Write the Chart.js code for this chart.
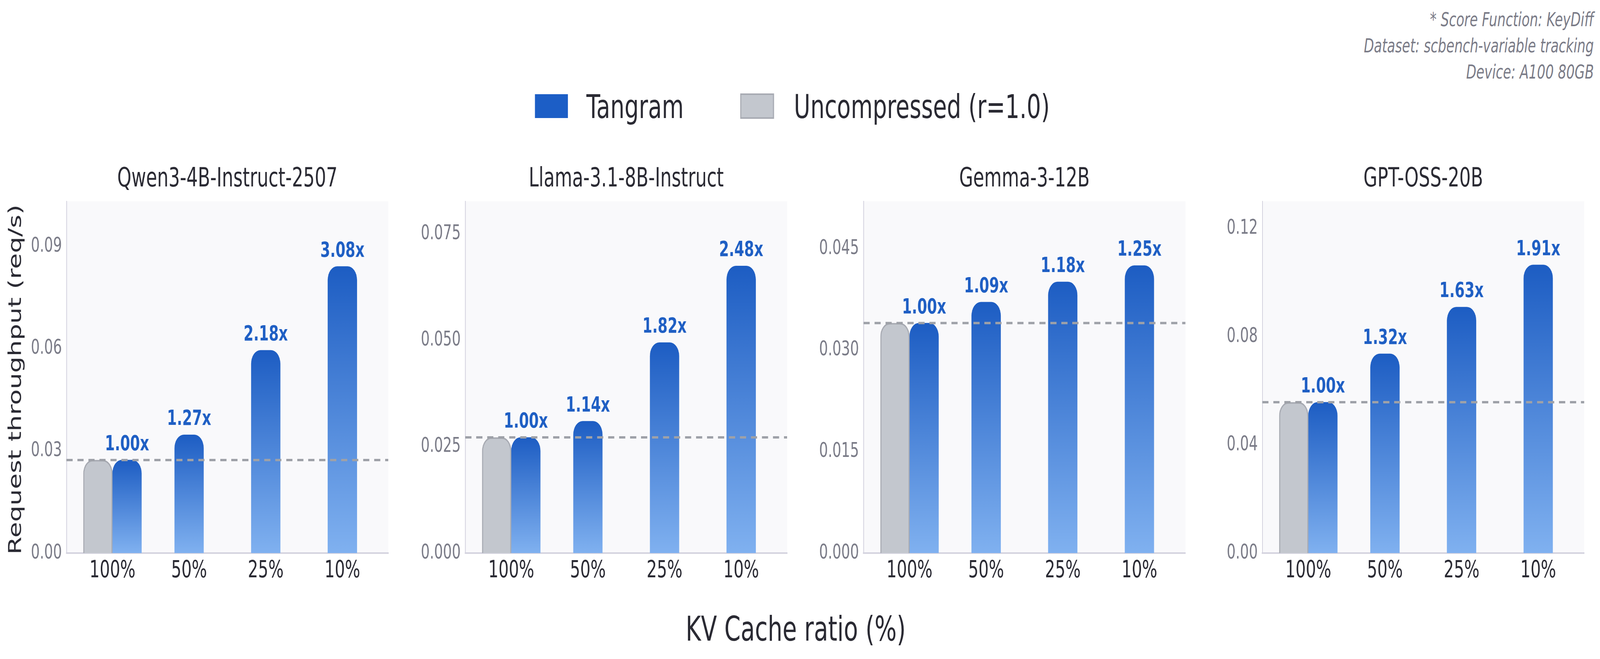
<!DOCTYPE html>
<html>
<head>
<meta charset="utf-8">
<title>Tangram throughput</title>
<script src="https://cdn.jsdelivr.net/npm/chart.js@4.4.1/dist/chart.umd.min.js"></script>
<style>
  html, body { margin: 0; background: #fff; overflow: hidden; }
  #fig { position: absolute; left: 0; top: 0; width: 5970px; height: 1686px; overflow: hidden; transform-origin: 0 0;
         font-family: "DejaVu Sans", sans-serif; color: #2a2a33; background: #fff; }
  .panel { position: absolute; top: 400px; height: 1125px; }
  .sw { position: absolute; box-sizing: border-box; }
  .lg { position: absolute; top: 231px; font-size: 84px; line-height: 84px; white-space: nowrap; }
  #note { position: absolute; right: 23px; top: 17px; text-align: right; font-style: italic; font-size: 49px; line-height: 67px; color: #7a7b87; white-space: nowrap; }
  #xlab { position: absolute; left: 2969px; top: 1566px; transform: translateX(-50%); font-size: 87px; line-height: 87px; white-space: nowrap; }
</style>
</head>
<body>
<div id="fig">
  <div id="note">* Score Function: KeyDiff<br>Dataset: scbench-variable tracking<br>Device: A100 80GB</div>
  <div class="sw" style="left:1996px;top:241px;width:123px;height:61px;background:#1c5ec6"></div>
  <div class="lg" style="left:2188px">Tangram</div>
  <div class="sw" style="left:2762px;top:239px;width:126px;height:65px;background:#c3c7ce;border:4px solid #a8abb3"></div>
  <div class="lg" style="left:2962px">Uncompressed (r=1.0)</div>
  <div id="xlab">KV Cache ratio (%)</div>
  <div class="panel" id="p0"><canvas id="c0"></canvas></div>
  <div class="panel" id="p1"><canvas id="c1"></canvas></div>
  <div class="panel" id="p2"><canvas id="c2"></canvas></div>
  <div class="panel" id="p3"><canvas id="c3"></canvas></div>
</div>
<script>
// Request throughput per model, Tangram vs. uncompressed KV cache.
Chart.defaults.font.family = "'DejaVu Sans', sans-serif";

const models = ["Qwen3-4B-Instruct-2507", "Llama-3.1-8B-Instruct", "Gemma-3-12B", "GPT-OSS-20B"];
const ratios = ["100%", "50%", "25%", "10%"];
const uncompressed = [0.0273, 0.0272, 0.0340, 0.0558];
const tangramQwen  = [0.0273, 0.0347, 0.0595, 0.0841];
const tangramLlama = [0.0272, 0.0310, 0.0495, 0.0675];
const tangramGemma = [0.0340, 0.0371, 0.0401, 0.0425];
const tangramGpt   = [0.0558, 0.0737, 0.0910, 0.1066];
const speedQwen  = ["1.00x", "1.27x", "2.18x", "3.08x"];
const speedLlama = ["1.00x", "1.14x", "1.82x", "2.48x"];
const speedGemma = ["1.00x", "1.09x", "1.18x", "1.25x"];
const speedGpt   = ["1.00x", "1.32x", "1.63x", "1.91x"];
const yMax = [0.1032, 0.0827, 0.0520, 0.1301];
const yTicksQwen  = [0, 0.03, 0.06, 0.09];
const yTicksLlama = [0, 0.025, 0.05, 0.075];
const yTicksGemma = [0, 0.015, 0.03, 0.045];
const yTicksGpt   = [0, 0.04, 0.08, 0.12];
const yDecimals = [2, 3, 3, 2];

const tangram = [tangramQwen, tangramLlama, tangramGemma, tangramGpt];
const speedup = [speedQwen, speedLlama, speedGemma, speedGpt];
const yTicks = [yTicksQwen, yTicksLlama, yTicksGemma, yTicksGpt];

// the figure is laid out on a 5970x1686 sheet and scaled to the window
const fig = document.getElementById("fig");
fig.style.transform = `scale(${window.innerWidth / 5970}, ${window.innerHeight / 1686})`;

const AX_LEFT = [248, 1736, 3222, 4710], AX_W = 1201, FIG_TOP = 400;
const PAIR = 0.19;            // half-offset of the two bars at 100%
const DARK = "#2a2a33", GREY_T = "#7a7b87";

const blueFill = ctx => {
  const chart = ctx.chart;
  if (!chart.chartArea || !ctx.raw) return "#1d5dc3";
  const y = chart.scales.y;
  const g = chart.ctx.createLinearGradient(0, y.getPixelForValue(ctx.raw.y), 0, y.getPixelForValue(0));
  g.addColorStop(0, "#1d5dc3");
  g.addColorStop(1, "#80b1f0");
  return g;
};

const decor = {
  id: "decor",
  beforeDraw(chart) {
    const {ctx, chartArea: a} = chart;
    ctx.save(); ctx.fillStyle = "#f9f9fb";
    ctx.fillRect(a.left, a.top, a.width, a.height); ctx.restore();
  },
  afterDatasetsDraw(chart) {
    const i = chart.options.panel, {ctx, chartArea: a, scales} = chart;
    // uncompressed baseline
    const yb = scales.y.getPixelForValue(uncompressed[i]);
    ctx.save();
    ctx.strokeStyle = "#9ea1a8"; ctx.lineWidth = 6; ctx.setLineDash([23, 18]);
    ctx.beginPath(); ctx.moveTo(a.left, yb); ctx.lineTo(a.right, yb); ctx.stroke();
    ctx.restore();
    // speed-up labels over the Tangram bars
    const meta = chart.getDatasetMeta(1);
    ctx.save();
    ctx.font = "bold 53px 'DejaVu Sans'"; ctx.fillStyle = "#1f5fc4";
    ctx.textAlign = "center"; ctx.textBaseline = "alphabetic";
    meta.data.forEach((bar, j) => ctx.fillText(speedup[i][j], bar.x, bar.y - 25));
    ctx.restore();
  },
  afterDraw(chart) {
    const i = chart.options.panel, {ctx, chartArea: a} = chart;
    ctx.save();
    ctx.fillStyle = DARK; ctx.font = "67px 'DejaVu Sans'";
    ctx.textAlign = "center"; ctx.textBaseline = "alphabetic";
    ctx.fillText(models[i], a.left + a.width / 2, 477 - FIG_TOP);
    if (i === 0) {
      ctx.font = "66px 'DejaVu Sans'";
      ctx.translate(78, 971 - FIG_TOP); ctx.rotate(-Math.PI / 2);
      ctx.fillText("Request throughput (req/s)", 0, 0);
    }
    ctx.restore();
  }
};

function makeChart(i) {
  const yW = i === 0 ? 248 : 200;
  const box = document.getElementById("p" + i);
  box.style.left = (AX_LEFT[i] - yW) + "px";
  box.style.width = (yW + AX_W + 20) + "px";

  const greyPts = [{x: 0 - PAIR, y: uncompressed[i]}];
  const bluePts = ratios.map((r, j) => ({x: j === 0 ? j + PAIR : j, y: tangram[i][j]}));
  const topOnly = {topLeft: 35, topRight: 35, bottomLeft: 0, bottomRight: 0};

  return new Chart(document.getElementById("c" + i), {
    type: "bar",
    data: {datasets: [
      {label: "Uncompressed (r=1.0)", data: greyPts, backgroundColor: "#c3c7ce", borderColor: "#a6a9b1",
       borderWidth: 4, borderSkipped: "bottom", borderRadius: topOnly,
       grouped: false, categoryPercentage: 1, barPercentage: 1},
      {label: "Tangram", data: bluePts, backgroundColor: blueFill, borderWidth: 0,
       borderSkipped: "bottom", borderRadius: topOnly,
       grouped: false, categoryPercentage: 1, barPercentage: 1}
    ]},
    options: {
      panel: i,
      responsive: true, maintainAspectRatio: false, animation: false,
      layout: {padding: {top: 115, right: 20, left: 0, bottom: 0}},
      plugins: {legend: {display: false}, tooltip: {enabled: false}},
      scales: {
        x: {type: "linear", min: -0.6, max: 3.6, offset: false, bounds: "data",
            afterBuildTicks: s => { s.ticks = ratios.map((r, j) => ({value: j})); },
            ticks: {callback: (v, k) => ratios[k], font: {size: 60}, color: DARK, padding: 10, maxRotation: 0, autoSkip: false},
            grid: {display: false, drawTicks: false, offset: false},
            border: {color: "#d4d3df", width: 4},
            afterFit: s => { s.height = 110; }},
        y: {min: 0, max: yMax[i],
            afterBuildTicks: s => { s.ticks = yTicks[i].map(v => ({value: v})); },
            ticks: {callback: v => v.toFixed(yDecimals[i]), font: {size: 52}, color: GREY_T, padding: 17},
            grid: {display: false, drawTicks: false},
            border: {color: "#d4d3df", width: 3},
            afterFit: s => { s.width = yW; }}
      }
    },
    plugins: [decor]
  });
}

models.forEach((m, i) => makeChart(i));
</script>
</body>
</html>
